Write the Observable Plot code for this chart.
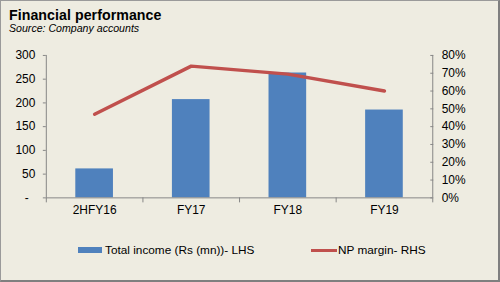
<!DOCTYPE html>
<html>
<head>
<meta charset="utf-8">
<script src="https://cdn.jsdelivr.net/npm/d3@7"></script>
<script src="https://cdn.jsdelivr.net/npm/@observablehq/plot@0.6"></script>
<style>
  html, body { margin: 0; padding: 0; background: #fff; }
  #card {
    position: relative; width: 500px; height: 282px; box-sizing: border-box;
    background: #EEECE1; border: 1px solid #9a9a9a; border-right: 2px solid #7f7f7f; border-bottom: 2px solid #7f7f7f;
    font-family: "Liberation Sans", Arial, sans-serif; color: #000; overflow: hidden;
  }
  #title { position: absolute; left: 8px; top: 7px; font-size: 14.2px; line-height: 1; font-weight: bold; letter-spacing: 0.05px; }
  #subtitle { position: absolute; left: 8px; top: 21.7px; font-size: 10.6px; line-height: 1; font-style: italic; }
  #chart { position: absolute; left: -1px; top: 39px; }
  .legend { position: absolute; top: 242px; font-size: 11.8px; display: flex; align-items: center; white-space: nowrap; }
  .sw-bar { width: 24px; height: 6px; background: #4F81BD; margin-right: 3px; }
  .sw-line { width: 26px; height: 3px; background: #C0504D; margin-right: 1px; }
</style>
</head>
<body>
<div id="card">
  <div id="title">Financial performance</div>
  <div id="subtitle">Source: Company accounts</div>
  <div id="chart"></div>
  <div class="legend" style="left:77px"><div class="sw-bar"></div>Total income (Rs (mn))- LHS</div>
  <div class="legend" style="left:310px"><div class="sw-line"></div>NP margin- RHS</div>
</div>
<script>
// Periods and the two series
const periods = ["2HFY16", "FY17", "FY18", "FY19"];
const totalIncome = [61, 207, 263, 185];          // Rs (mn), left axis
const npMargin = [0.47, 0.74, 0.695, 0.60];        // share, right axis

const leftTicks = [0, 50, 100, 150, 200, 250, 300];
const rightTicks = [0, 0.1, 0.2, 0.3, 0.4, 0.5, 0.6, 0.7, 0.8];

// Right-hand axis (0–80%) is drawn on the same pixel range as the left (0–300)
const leftMax = 300, rightMax = 0.8;
const toLeft = p => p * leftMax / rightMax;

const rows = periods.map((p, i) => ({i, period: p, income: totalIncome[i], margin: npMargin[i]}));

const axisColor = "#868686";

const chart = Plot.plot({
  width: 500,
  height: 183,
  marginTop: 15,
  marginBottom: 25,
  marginLeft: 46,
  marginRight: 66,
  style: {background: "transparent", fontFamily: "'Liberation Sans', Arial, sans-serif", fontSize: "12px", color: "#000"},
  x: {type: "linear", domain: [0, periods.length]},
  y: {domain: [0, leftMax]},
  marks: [
    Plot.rectY(rows, {x: "i", y: "income", interval: 1, insetLeft: 29.6, insetRight: 29.6, fill: "#4F81BD"}),
    Plot.line(rows, {x: d => d.i + 0.5, y: d => toLeft(d.margin), stroke: "#C0504D", strokeWidth: 3.5}),
    Plot.ruleX([0, periods.length], {stroke: axisColor}),
    Plot.ruleY([0], {stroke: axisColor}),
    Plot.axisY({ticks: leftTicks, tickSize: 3, tickPadding: 8, stroke: axisColor, label: null,
      tickFormat: d => d === 0 ? "-\u2007" : String(d)}),
    Plot.axisY(rightTicks.map(toLeft), {anchor: "right", tickSize: -3, tickPadding: 12, stroke: axisColor, label: null,
      tickFormat: v => d3.format(".0%")(v / leftMax * rightMax)}),
    Plot.axisX(d3.range(periods.length + 1), {tickSize: 5, stroke: axisColor, tickFormat: () => "", label: null}),
    Plot.axisX(periods.map((p, i) => i + 0.5), {tickSize: 0, tickPadding: 8, label: null,
      tickFormat: v => periods[Math.floor(v)]})
  ]
});
document.getElementById("chart").appendChild(chart);
</script>
</body>
</html>
